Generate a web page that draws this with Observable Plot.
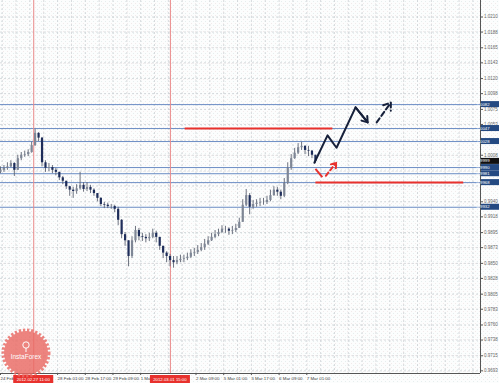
<!DOCTYPE html>
<html><head><meta charset="utf-8">
<script src="https://cdn.jsdelivr.net/npm/d3@7"></script>
<script src="https://cdn.jsdelivr.net/npm/@observablehq/plot@0.6"></script>
<style>
html,body{margin:0;padding:0;background:#fff;}
#chart{position:relative;width:499px;height:383px;overflow:hidden;}
svg{font-family:"Liberation Sans",Arial,sans-serif;}
</style></head><body><div id="chart"></div>
<script>
// 2-hour candles, index 0 = 24 Feb 2012
const closes = [0.9986,0.9989,0.9991,0.9996,0.9986,1.0003,1.0008,1.0009,1.0012,1.0022,
1.0040,1.0033,0.9997,0.9989,0.9990,0.9986,0.9983,0.9975,0.9970,0.9962,
0.9957,0.9955,0.9959,0.9964,0.9958,0.9961,0.9957,0.9952,0.9945,0.9936,
0.9935,0.9933,0.9933,0.9929,0.9913,0.9892,0.9883,0.9860,0.9883,0.9898,
0.9889,0.9888,0.9886,0.9888,0.9894,0.9888,0.9875,0.9865,0.9860,0.9854,
0.9851,0.9854,0.9856,0.9857,0.9859,0.9865,0.9866,0.9869,0.9873,0.9878,
0.9883,0.9888,0.9892,0.9895,0.9900,0.9900,0.9897,0.9898,0.9901,0.9910,
0.9935,0.9949,0.9932,0.9936,0.9938,0.9939,0.9939,0.9942,0.9949,0.9957,
0.9954,0.9948,0.9967,0.9989,1.0003,1.0011,1.0019,1.0021,1.0015,1.0014,
1.0008,0.9999];
const highs = [0.9991,0.9993,0.9997,1.0000,0.9997,1.0008,1.0012,1.0014,1.0016,1.0027,
1.0046,1.0041,1.0034,1.0000,0.9996,0.9993,0.9989,0.9983,0.9977,0.9970,
0.9962,0.9961,0.9965,0.9983,0.9968,0.9968,0.9964,0.9959,0.9952,0.9946,
0.9939,0.9938,0.9936,0.9935,0.9932,0.9914,0.9895,0.9883,0.9889,0.9904,
0.9901,0.9894,0.9892,0.9894,0.9900,0.9897,0.9888,0.9875,0.9867,0.9863,
0.9860,0.9860,0.9862,0.9862,0.9865,0.9870,0.9872,0.9876,0.9879,0.9885,
0.9889,0.9894,0.9898,0.9900,0.9905,0.9904,0.9902,0.9904,0.9907,0.9916,
0.9943,0.9958,0.9952,0.9942,0.9943,0.9945,0.9945,0.9948,0.9957,0.9962,
0.9961,0.9957,0.9974,0.9997,1.0009,1.0018,1.0025,1.0027,1.0022,1.0021,
1.0015,1.0008];
const lows = [0.9981,0.9983,0.9986,0.9990,0.9977,0.9986,1.0000,1.0005,1.0006,1.0011,
1.0021,1.0028,0.9991,0.9983,0.9984,0.9981,0.9978,0.9971,0.9965,0.9958,
0.9948,0.9945,0.9951,0.9957,0.9954,0.9955,0.9952,0.9948,0.9940,0.9933,
0.9930,0.9930,0.9929,0.9924,0.9905,0.9886,0.9875,0.9845,0.9857,0.9880,
0.9883,0.9882,0.9880,0.9882,0.9886,0.9880,0.9869,0.9857,0.9851,0.9845,
0.9843,0.9848,0.9851,0.9851,0.9854,0.9857,0.9860,0.9863,0.9867,0.9869,
0.9876,0.9882,0.9886,0.9889,0.9894,0.9894,0.9891,0.9892,0.9895,0.9901,
0.9910,0.9933,0.9921,0.9929,0.9932,0.9933,0.9935,0.9936,0.9940,0.9948,
0.9948,0.9943,0.9946,0.9965,0.9986,1.0002,1.0009,1.0015,1.0009,1.0006,
1.0003,0.9996];
const firstOpen = 0.9983;

const levelLines = [1.0082, 1.0047, 1.0028, 0.9990, 0.9981, 0.9968, 0.9932];
const currentPrice = 0.9999;
const yTicks = [1.0210,1.0188,1.0165,1.0143,1.0120,1.0098,1.0075,1.0053,1.0030,1.0008,
0.9985,0.9963,0.9940,0.9918,0.9895,0.9873,0.9850,0.9828,0.9805,0.9783,0.9760,0.9738,0.9715,0.9693];
const xTickPos = [0, 16.5, 24.5, 32.5, 40.5, 56.5, 64.5, 72.5, 80.5, 88.5];
const xTickLabels = ["24 Feb 2012","28 Feb 01:00","28 Feb 17:00","29 Feb 09:00","1 Mar 01:00",
"2 Mar 09:00","5 Mar 01:00","5 Mar 17:00","6 Mar 09:00","7 Mar 01:00"];
const markerPos = [9.6, 49.1];
const markerLabels = ["2012.02.27 11:00", "2012.03.01 15:00"];

const redLineX1 = [53.2, 91.0];
const redLineX2 = [95.9, 133.7];
const redLineY = [1.0047, 0.9968];

const blackPathX = [90.7, 94.5, 97.1, 102.6, 106.1];
const blackPathY = [0.9997, 1.0037, 1.0019, 1.0078, 1.0056];
const blackDashX = [108.7, 112.8];
const blackDashY = [1.0056, 1.0085];
const redPathX = [91.0, 93.0];
const redPathY = [0.9988, 0.9976];
const redDashX = [94.0, 97.0];
const redDashY = [0.9978, 0.9997];

const xDomain = [0, 138.7];
const yDomain = [0.96891, 1.02341];

const candles = closes.map((c, i) => ({
  i, close: c, open: i === 0 ? firstOpen : closes[i - 1], high: highs[i], low: lows[i]
}));
const up = candles.filter(d => d.close >= d.open);
const down = candles.filter(d => d.close < d.open);
const blackPath = blackPathX.map((x, k) => ({x, y: blackPathY[k]}));
const redSeg = [{x1: redPathX[0], y1: redPathY[0], x2: redPathX[1], y2: redPathY[1]}];
const redDash = [{x1: redDashX[0], y1: redDashY[0], x2: redDashX[1], y2: redDashY[1]}];
const blackDash = [{x1: blackDashX[0], y1: blackDashY[0], x2: blackDashX[1], y2: blackDashY[1]}];
const n = blackPath.length;
const blackHead = [{x1: blackPath[n-2].x, y1: blackPath[n-2].y, x2: blackPath[n-1].x, y2: blackPath[n-1].y}];
const redLevels = redLineY.map((y, k) => ({x1: redLineX1[k], x2: redLineX2[k], y}));
const vGrid = d3.range(0.5, xDomain[1], 4);
// regular price labels hidden behind highlighted boxes (as on the terminal)
const boxed = levelLines.concat([currentPrice]);
const visibleYTicks = yTicks.filter(t => boxed.every(b => Math.abs(b - t) > 0.0006));

const plot = Plot.plot({
  width: 499, height: 383,
  marginLeft: 0, marginRight: 19, marginTop: 0, marginBottom: 10,
  x: {domain: xDomain, axis: null},
  y: {domain: yDomain, axis: null},
  style: {background: "transparent", fontFamily: "Liberation Sans, Arial, sans-serif"},
  marks: [
    Plot.ruleX(vGrid, {stroke: "#cdd1d4", strokeWidth: 0.8, strokeDasharray: "2,2"}),
    Plot.ruleY(yTicks, {stroke: "#cdd1d4", strokeWidth: 0.8, strokeDasharray: "2,2"}),
    Plot.ruleY(levelLines, {stroke: "#6a8cc4", strokeWidth: 1}),
    Plot.ruleX(markerPos, {stroke: "#e98a8a", strokeWidth: 1}),
    Plot.ruleX(candles, {x: "i", y1: "low", y2: "high", stroke: "#5d6372", strokeWidth: 0.9}),
    Plot.ruleX(up, {x: "i", y1: "open", y2: "close", stroke: "#7f8796", strokeWidth: 2.2}),
    Plot.ruleX(down, {x: "i", y1: "open", y2: "close", stroke: "#1e2d5a", strokeWidth: 2.2}),
    Plot.link(redLevels, {x1: "x1", x2: "x2", y1: "y", y2: "y", stroke: "#e8312d", strokeWidth: 2}),
    Plot.line(blackPath, {x: "x", y: "y", stroke: "#16203a", strokeWidth: 2}),
    Plot.arrow(blackHead, {x1: "x1", y1: "y1", x2: "x2", y2: "y2", stroke: "#16203a", strokeWidth: 2, headLength: 8, headAngle: 70}),
    Plot.arrow(blackDash, {x1: "x1", y1: "y1", x2: "x2", y2: "y2", stroke: "#16203a", strokeWidth: 2, strokeDasharray: "5,3", headLength: 8, headAngle: 70}),
    Plot.link(redSeg, {x1: "x1", y1: "y1", x2: "x2", y2: "y2", stroke: "#e8312d", strokeWidth: 2}),
    Plot.arrow(redDash, {x1: "x1", y1: "y1", x2: "x2", y2: "y2", stroke: "#e8312d", strokeWidth: 2, strokeDasharray: "4,3", headLength: 7, headAngle: 70}),
    Plot.ruleY([yDomain[0]], {stroke: "#555", strokeWidth: 1}),
    Plot.ruleX([xDomain[1]], {stroke: "#555", strokeWidth: 1}),
    Plot.axisY(visibleYTicks, {anchor: "right", tickSize: 2, tickPadding: 1.5, fontSize: 4.5, fill: "#666", stroke: "#555",
      tickFormat: d => d.toFixed(4)}),
    Plot.axisX(xTickPos, {anchor: "bottom", tickSize: 2, tickPadding: 1, fontSize: 4.4, fill: "#444", stroke: "#555",
      textAnchor: "start", tickFormat: d => xTickLabels[xTickPos.indexOf(d)]})
  ]
});

const svg = d3.select(plot);
const xs = plot.scale("x"), ys = plot.scale("y");

// speckled background
const defs = svg.insert("defs", ":first-child");
const pat = defs.append("pattern").attr("id", "speck").attr("width", 4).attr("height", 4).attr("patternUnits", "userSpaceOnUse");
pat.append("rect").attr("width", 4).attr("height", 4).attr("fill", "#fcfdfd");
pat.append("rect").attr("x", 1).attr("y", 1).attr("width", 1).attr("height", 1).attr("fill", "#e6eeee");
pat.append("rect").attr("x", 3).attr("y", 3).attr("width", 1).attr("height", 1).attr("fill", "#f2eaea");
svg.insert("rect", "defs + *").attr("width", 499).attr("height", 383).attr("fill", "url(#speck)");

// highlighted price labels
const yLab = svg.append("g").attr("font-size", 4.3).attr("font-family", "Liberation Sans, Arial, sans-serif");
levelLines.forEach(v => {
  const y = ys.apply(v);
  yLab.append("rect").attr("x", 481).attr("y", y - 3).attr("width", 18).attr("height", 6).attr("fill", "#244a82");
  yLab.append("text").attr("x", 483).attr("y", y + 1.5).attr("fill", "#fff").text(v.toFixed(4));
});
{
  const y = ys.apply(currentPrice);
  yLab.append("rect").attr("x", 481).attr("y", y - 3).attr("width", 18).attr("height", 6).attr("fill", "#111");
  yLab.append("text").attr("x", 483).attr("y", y + 1.5).attr("fill", "#fff").text(currentPrice.toFixed(4));
}
// highlighted time labels
markerPos.forEach((v, k) => {
  const x = xs.apply(v);
  yLab.append("rect").attr("x", x - 20).attr("y", 375).attr("width", 40).attr("height", 8).attr("fill", "#e8312d");
  yLab.append("text").attr("x", x).attr("y", 381).attr("text-anchor", "middle").attr("fill", "#fff").text(markerLabels[k]);
});

// InstaForex watermark
const wm = svg.append("g").attr("transform", "translate(26,353)").attr("opacity", 0.82);
wm.append("circle").attr("r", 22).attr("fill", "#ea6a64").attr("stroke", "#ea6a64").attr("stroke-width", 5).attr("stroke-dasharray", "2.2,1.8");
wm.append("circle").attr("cy", -8).attr("r", 3.2).attr("fill", "none").attr("stroke", "#fff").attr("stroke-width", 1);
wm.append("line").attr("x1", 0).attr("x2", 0).attr("y1", -5).attr("y2", -1).attr("stroke", "#fff").attr("stroke-width", 1);
wm.append("text").attr("y", 6).attr("text-anchor", "middle").attr("font-size", 6.5).attr("fill", "#fff")
  .attr("font-family", "Liberation Sans, Arial, sans-serif").text("InstaForex");

document.getElementById("chart").appendChild(plot);
</script>
</body></html>
